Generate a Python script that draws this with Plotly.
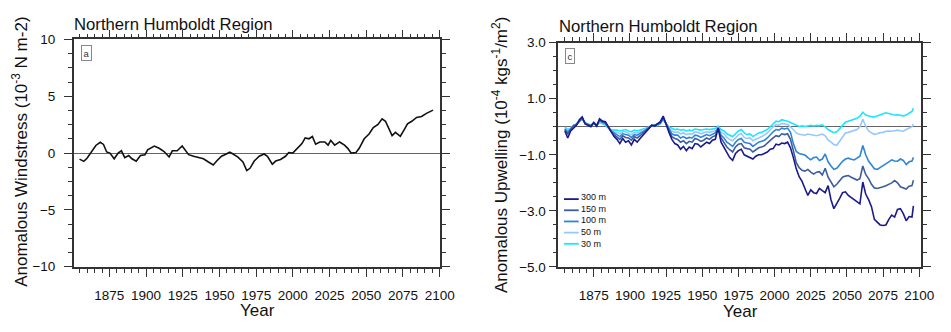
import plotly.graph_objects as go

# ---- Panel a: anomalous windstress (10^-3 N m-2) ----
ws_year = [1854.7, 1857.6, 1859.8, 1863.0, 1865.8, 1868.8, 1871.0, 1873.2, 1875.4, 1878.3,
           1881.0, 1883.2, 1885.5, 1888.2, 1890.4, 1893.3, 1896.2, 1899.3, 1901.1, 1905.6,
           1908.9, 1912.3, 1915.7, 1917.9, 1921.2, 1924.6, 1926.8, 1929.0, 1932.4, 1935.8,
           1939.1, 1942.5, 1945.8, 1948.1, 1951.4, 1953.6, 1957.0, 1959.3, 1962.6, 1966.0,
           1968.6, 1970.8, 1973.7, 1977.1, 1980.4, 1982.7, 1986.0, 1988.3, 1991.6, 1995.0,
           1997.2, 1999.9, 2002.8, 2006.2, 2008.4, 2011.0, 2013.3, 2015.5, 2018.4, 2021.8,
           2024.0, 2025.8, 2028.5, 2031.8, 2035.2, 2037.4, 2039.7, 2043.0, 2045.2, 2048.6,
           2051.9, 2054.8, 2058.0, 2060.8, 2063.1, 2065.4, 2067.6, 2069.9, 2073.2, 2075.4,
           2078.1, 2081.0, 2084.3, 2087.7, 2091.0, 2095.5]
ws_val = [-0.53, -0.73, -0.45, 0.10, 0.67, 0.95, 0.76, 0.10, 0.00, -0.50,
          0.00, 0.20, -0.40, -0.22, -0.50, -0.72, -0.22, -0.14, 0.28, 0.62,
          0.42, 0.14, -0.34, 0.20, 0.20, 0.62, 0.28, -0.14, -0.28, -0.36,
          -0.50, -0.78, -1.04, -0.70, -0.28, -0.14, 0.08, -0.08, -0.36, -0.78,
          -1.54, -1.34, -0.70, -0.28, -0.08, -0.28, -0.98, -0.70, -0.56, -0.28,
          0.05, 0.00, 0.42, 0.84, 1.34, 1.26, 1.46, 0.78, 0.98, 0.98,
          0.70, 1.12, 0.70, 0.98, 0.70, 0.42, 0.00, 0.05, 0.42, 1.26,
          1.68, 2.24, 2.52, 3.02, 2.80, 2.10, 1.54, 1.82, 1.48, 1.96,
          2.58, 2.80, 3.14, 3.22, 3.50, 3.78]

# ---- Panel c: anomalous upwelling (10^-4 kg s-1 / m2) at five depths ----
up_year = [1855, 1857, 1859, 1861, 1863, 1865, 1867, 1869, 1871, 1873,
           1875, 1877, 1879, 1881, 1883, 1885, 1887, 1889, 1891, 1893,
           1895, 1897, 1899, 1901, 1903, 1905, 1907, 1909, 1911, 1913,
           1915, 1917, 1919, 1921, 1923, 1925, 1927, 1929, 1931, 1933,
           1935, 1937, 1939, 1941, 1943, 1945, 1947, 1949, 1951, 1953,
           1955, 1957, 1959, 1961, 1963, 1965, 1967, 1969, 1971, 1973,
           1975, 1977, 1979, 1981, 1983, 1985, 1987, 1989, 1991, 1993,
           1995, 1997, 1999, 2001, 2003, 2005, 2007, 2009, 2011, 2013,
           2015, 2017, 2019, 2021, 2023, 2025, 2027, 2029, 2031, 2033,
           2035, 2037, 2039, 2041, 2043, 2045, 2047, 2049, 2051, 2053,
           2055, 2057, 2059, 2061, 2063, 2065, 2067, 2069, 2071, 2073,
           2075, 2077, 2079, 2081, 2083, 2085, 2087, 2089, 2091, 2093,
           2095, 2096]

up_30m = [0.00, -0.10, -0.05, 0.05, 0.10, 0.20, 0.25, 0.15, 0.10, 0.05,
          0.10, 0.05, 0.15, 0.10, 0.05, -0.05, -0.10, -0.12, -0.12, -0.15,
          -0.12, -0.10, -0.15, -0.18, -0.12, -0.15, -0.12, -0.08, -0.05, 0.00,
          0.02, 0.05, 0.05, 0.10, 0.25, 0.10, 0.00, -0.05, -0.10, -0.08,
          -0.12, -0.10, -0.15, -0.12, -0.14, -0.08, -0.10, -0.12, -0.10, -0.08,
          -0.10, -0.08, -0.06, 0.02, -0.10, -0.15, -0.25, -0.30, -0.35, -0.25,
          -0.15, -0.10, -0.22, -0.28, -0.25, -0.35, -0.28, -0.22, -0.20, -0.15,
          -0.10, 0.00, 0.12, 0.20, 0.18, 0.25, 0.22, 0.20, 0.15, 0.10,
          0.04, 0.01, 0.03, 0.01, 0.03, 0.05, 0.03, 0.05, 0.04, 0.07,
          0.00, -0.10, -0.16, -0.21, -0.18, -0.08, 0.05, 0.16, 0.20, 0.22,
          0.26, 0.30, 0.38, 0.52, 0.42, 0.38, 0.36, 0.35, 0.38, 0.43,
          0.46, 0.50, 0.47, 0.44, 0.42, 0.43, 0.41, 0.39, 0.42, 0.50,
          0.55, 0.66]

up_50m = [-0.05, -0.15, -0.05, 0.05, 0.10, 0.20, 0.28, 0.15, 0.10, 0.05,
          0.12, 0.05, 0.18, 0.12, 0.10, -0.02, -0.12, -0.18, -0.20, -0.25,
          -0.18, -0.18, -0.22, -0.28, -0.20, -0.22, -0.18, -0.12, -0.08, 0.00,
          0.05, 0.05, 0.08, 0.12, 0.28, 0.10, -0.05, -0.15, -0.20, -0.18,
          -0.25, -0.22, -0.28, -0.25, -0.26, -0.18, -0.20, -0.25, -0.22, -0.18,
          -0.20, -0.16, -0.14, -0.02, -0.20, -0.25, -0.38, -0.45, -0.50, -0.40,
          -0.28, -0.25, -0.38, -0.42, -0.40, -0.50, -0.45, -0.38, -0.35, -0.30,
          -0.22, -0.10, 0.00, 0.08, 0.05, 0.12, 0.10, 0.08, 0.00, -0.12,
          -0.22, -0.27, -0.28, -0.30, -0.26, -0.27, -0.30, -0.32, -0.30, -0.26,
          -0.32, -0.47, -0.55, -0.63, -0.66, -0.52, -0.36, -0.22, -0.20, -0.17,
          -0.15, -0.10, 0.00, 0.27, 0.02, -0.15, -0.22, -0.27, -0.25, -0.21,
          -0.20, -0.16, -0.15, -0.16, -0.14, -0.12, -0.14, -0.16, -0.10, -0.06,
          0.00, 0.09]

up_100m = [-0.08, -0.20, -0.08, 0.05, 0.08, 0.20, 0.30, 0.12, 0.08, 0.05,
           0.15, 0.05, 0.22, 0.15, 0.12, 0.00, -0.15, -0.22, -0.28, -0.35,
           -0.25, -0.28, -0.30, -0.38, -0.28, -0.30, -0.25, -0.18, -0.10, -0.02,
           0.05, 0.05, 0.08, 0.12, 0.30, 0.10, -0.10, -0.25, -0.30, -0.30,
           -0.40, -0.35, -0.42, -0.38, -0.40, -0.30, -0.32, -0.38, -0.33, -0.28,
           -0.32, -0.26, -0.22, -0.03, -0.30, -0.40, -0.55, -0.62, -0.70, -0.55,
           -0.45, -0.42, -0.55, -0.58, -0.60, -0.70, -0.62, -0.55, -0.52, -0.48,
           -0.40, -0.28, -0.18, -0.10, -0.12, -0.05, -0.08, -0.05, -0.20, -0.60,
           -0.88, -0.95, -0.98, -1.01, -1.10, -1.18, -1.10, -1.08, -1.20, -1.15,
           -0.97, -1.25, -1.40, -1.52, -1.48, -1.35, -1.23, -1.15, -1.12, -1.16,
           -1.18, -1.12, -1.05, -0.67, -1.00, -1.22, -1.38, -1.50, -1.52, -1.46,
           -1.40, -1.32, -1.25, -1.18, -1.22, -1.23, -1.15, -1.20, -1.35, -1.25,
           -1.22, -1.09]

up_150m = [-0.10, -0.25, -0.10, 0.03, 0.08, 0.22, 0.32, 0.12, 0.08, 0.03,
           0.15, 0.05, 0.25, 0.18, 0.15, 0.00, -0.18, -0.28, -0.35, -0.45,
           -0.32, -0.38, -0.40, -0.48, -0.35, -0.40, -0.32, -0.22, -0.15, -0.02,
           0.05, 0.05, 0.10, 0.15, 0.32, 0.08, -0.15, -0.35, -0.42, -0.45,
           -0.55, -0.50, -0.60, -0.52, -0.55, -0.42, -0.45, -0.52, -0.48, -0.40,
           -0.45, -0.36, -0.32, -0.05, -0.40, -0.55, -0.72, -0.82, -0.90, -0.72,
           -0.62, -0.60, -0.75, -0.78, -0.80, -0.90, -0.82, -0.75, -0.72, -0.68,
           -0.58, -0.48, -0.40, -0.32, -0.35, -0.25, -0.28, -0.25, -0.45, -0.85,
           -1.28, -1.46, -1.55, -1.58, -1.52, -1.62, -1.69, -1.62, -1.60, -1.72,
           -1.48, -1.80, -1.95, -2.14, -2.05, -1.92, -1.80, -1.76, -1.74, -1.80,
           -1.86, -1.90, -1.85, -1.40, -1.70, -1.85, -2.05, -2.18, -2.20, -2.18,
           -2.14, -2.10, -2.05, -2.00, -1.92, -2.00, -2.14, -2.18, -2.22, -2.12,
           -2.10, -1.91]

up_300m = [-0.15, -0.40, -0.15, -0.05, 0.05, 0.25, 0.35, 0.10, 0.05, 0.00,
           0.15, 0.02, 0.28, 0.20, 0.18, 0.00, -0.22, -0.35, -0.45, -0.60,
           -0.42, -0.55, -0.50, -0.65, -0.45, -0.55, -0.42, -0.30, -0.20, -0.05,
           0.05, 0.02, 0.10, 0.18, 0.38, 0.05, -0.20, -0.45, -0.60, -0.65,
           -0.80, -0.70, -0.85, -0.72, -0.78, -0.60, -0.62, -0.72, -0.65, -0.55,
           -0.60, -0.48, -0.45, -0.05, -0.55, -0.75, -0.95, -1.10, -1.20, -0.95,
           -0.85, -0.80, -1.00, -1.05, -1.08, -1.15, -1.05, -1.00, -1.00, -0.95,
           -0.90, -0.80, -0.78, -0.62, -0.65, -0.58, -0.60, -0.55, -0.75, -1.10,
           -1.50, -1.78, -1.95, -2.20, -2.45, -2.25, -2.35, -2.38, -2.20, -2.28,
           -2.35, -2.10, -2.60, -2.92, -2.75, -2.55, -2.35, -2.32, -2.45, -2.52,
           -2.60, -2.65, -2.75, -1.97, -2.40, -2.60, -2.85, -3.30, -3.42, -3.50,
           -3.52, -3.50, -3.30, -3.15, -3.22, -2.95, -2.92, -3.10, -3.35, -3.20,
           -3.22, -2.82]

depth_labels = ["300 m", "150 m", "100 m", "50 m", "30 m"]
depth_series = [up_300m, up_150m, up_100m, up_50m, up_30m]
depth_colors = ["#1a1a8c", "#3d5c9e", "#2f86d6", "#96c8ff", "#19e6ff"]

W, H = 951, 332
FONT = "Liberation Sans, Arial, sans-serif"
AX = "#333333"


def px(x):
    return x / W


def py(y):
    return 1 - y / H


fig = go.Figure()

fig.add_trace(go.Scatter(x=ws_year, y=ws_val, mode="lines",
                         line=dict(color="#111111", width=1.6),
                         xaxis="x", yaxis="y", showlegend=False))

# shallowest first so the deepest series sits on top
for name, vals, col in reversed(list(zip(depth_labels, depth_series, depth_colors))):
    fig.add_trace(go.Scatter(x=up_year, y=vals, mode="lines", name=name,
                             line=dict(color=col, width=1.6),
                             xaxis="x2", yaxis="y2", showlegend=False))


def xaxis(domain, rng, anchor):
    return dict(domain=domain, range=rng, anchor=anchor,
                tick0=1875, dtick=25, ticks="outside", ticklen=8, tickwidth=1.4,
                tickcolor=AX, showline=True, linecolor=AX, linewidth=1.6,
                mirror="ticks", showgrid=False, zeroline=False,
                ticklabelstandoff=7,
                tickfont=dict(family=FONT, size=13.5, color="#111"),
                minor=dict(dtick=5, tick0=1850, ticks="outside", ticklen=4,
                           tickwidth=1, tickcolor=AX, showgrid=False))


def yaxis(domain, rng, anchor, tick0, dtick, mdtick, fmt, standoff):
    return dict(domain=domain, range=rng, anchor=anchor,
                tick0=tick0, dtick=dtick, tickformat=fmt,
                ticks="outside", ticklen=8, tickwidth=1.4, tickcolor=AX,
                showline=True, linecolor=AX, linewidth=1.6, mirror="ticks",
                showgrid=False, zeroline=True, zerolinecolor="#666666",
                zerolinewidth=1, ticklabelstandoff=standoff,
                tickfont=dict(family=FONT, size=13.5, color="#111"),
                minor=dict(dtick=mdtick, ticks="outside", ticklen=4,
                           tickwidth=1, tickcolor=AX, showgrid=False))


fig.update_layout(
    width=W, height=H,
    margin=dict(l=0, r=0, t=0, b=0),
    paper_bgcolor="white", plot_bgcolor="white",
    font=dict(family=FONT, color="#111"),
    xaxis=xaxis([px(75), px(447)], [1850.8, 2100.2], "y"),
    yaxis=yaxis([py(272), py(34)], [-10, 10], "x", 0, 5, 1.25, "d", 6),
    xaxis2=xaxis([px(567.3), px(935.7)], [1850.5, 2101.2], "y2"),
    yaxis2=yaxis([py(272.3), py(37.3)], [-5, 3], "x2", 1, 2, 0.5, ".1f", 0),
)

ann = []
title_font = dict(family=FONT, size=16.7, color="#111")
ann.append(dict(text="Northern Humboldt Region", x=px(73), y=py(18.5),
                xanchor="left", yanchor="middle", font=title_font))
ann.append(dict(text="Northern Humboldt Region", x=px(565.5), y=py(20.5),
                xanchor="left", yanchor="middle", font=title_font))
lab_font = dict(family=FONT, size=17, color="#111")
ann.append(dict(text="Year", x=px(262), y=py(318), xanchor="center",
                yanchor="middle", font=lab_font))
ann.append(dict(text="Year", x=px(752), y=py(319), xanchor="center",
                yanchor="middle", font=lab_font))
ann.append(dict(text="Anomalous Windstress (10<sup>-3</sup> N m-2)", textangle=-90,
                x=px(20), y=py(152), xanchor="center", yanchor="middle",
                font=lab_font))
ann.append(dict(text="Anomalous Upwelling (10<sup>-4</sup> kgs<sup>-1</sup>/m<sup>2</sup>)",
                textangle=-90, x=px(508), y=py(155), xanchor="center",
                yanchor="middle", font=lab_font))
# panel letters in small boxes
for letter, cx, cy in [("a", 87.5, 48), ("c", 579, 51)]:
    ann.append(dict(text=letter, x=px(cx), y=py(cy), xanchor="center",
                    yanchor="middle", showarrow=False,
                    font=dict(family=FONT, size=9.5, color="#333"),
                    bordercolor="#888888", borderwidth=1, borderpad=1.5,
                    bgcolor="white"))

# legend for the depth series, drawn inside panel c as one text block
LEG_SIZE = 9
LEG_STEP = LEG_SIZE * 1.3
LEG_MID = 223.8
shapes = []
n = len(depth_labels)
for i, col in enumerate(depth_colors):
    ly = LEG_MID + (i - (n - 1) / 2) * LEG_STEP + 0.8
    shapes.append(dict(type="line", xref="paper", yref="paper",
                       x0=px(573), x1=px(588), y0=py(ly), y1=py(ly),
                       line=dict(color=col, width=1.8)))
ann.append(dict(text="<br>".join(depth_labels), x=px(588), y=py(LEG_MID),
                xanchor="left", yanchor="middle", align="left", showarrow=False,
                font=dict(family=FONT, size=LEG_SIZE, color="#111")))

for a in ann:
    a.setdefault("showarrow", False)
    a["xref"] = "paper"
    a["yref"] = "paper"

fig.update_layout(annotations=ann, shapes=shapes)

fig.write_html("out.html")
